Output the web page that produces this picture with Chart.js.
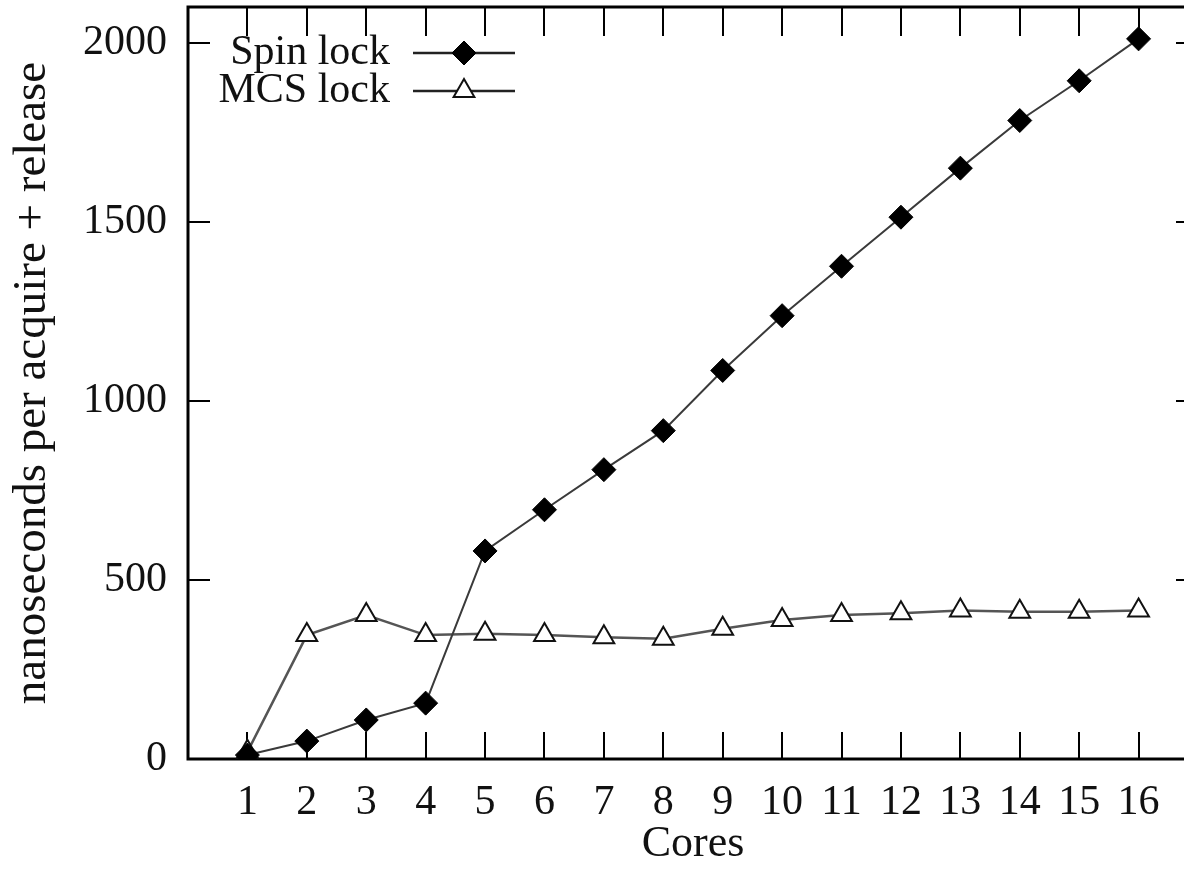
<!DOCTYPE html>
<html>
<head>
<meta charset="utf-8">
<title>Spin lock vs MCS lock</title>
<script src="https://cdn.jsdelivr.net/npm/chart.js@4.4.0/dist/chart.umd.min.js"></script>
<style>
    html, body { margin: 0; padding: 0; background: #fff; overflow: hidden; }
    #wrap { width: 1210px; height: 872px; }
</style>
</head>
<body>
<div id="wrap"><canvas id="lockChart" width="1210" height="872"></canvas></div>
<script>
const cores = [1, 2, 3, 4, 5, 6, 7, 8, 9, 10, 11, 12, 13, 14, 15, 16];
const spinLock = [11, 50, 109, 156, 581, 696, 808, 917, 1085, 1238, 1376, 1513, 1650, 1783, 1894, 2011];
const mcsLock = [20, 346, 402, 346, 350, 346, 340, 336, 364, 388, 402, 407, 415, 411, 411, 415];
const yTicks = [0, 500, 1000, 1500, 2000];
const xRange = [0, 17];
const yRange = [0, 2100];
const seriesNames = ['Spin lock', 'MCS lock'];

const serif = '"Liberation Serif", "Times New Roman", serif';

document.addEventListener('DOMContentLoaded', () => {
    // gnuplot style frame with inward ticks on all four sides
    const frameTicks = {
        id: 'frameTicks',
        beforeDatasetsDraw(chart) {
            const ctx = chart.ctx;
            const { left, right, top, bottom } = chart.chartArea;
            const xs = chart.scales.x;
            const ys = chart.scales.y;
            ctx.save();
            ctx.strokeStyle = '#000';
            ctx.lineWidth = 2;
            ctx.beginPath();
            xs.ticks.forEach(t => {
                const px = Math.round(xs.getPixelForValue(t.value));
                ctx.moveTo(px, bottom);
                ctx.lineTo(px, bottom - 27);
                ctx.moveTo(px, top);
                ctx.lineTo(px, top + 29);
            });
            ys.ticks.forEach(t => {
                const py = Math.round(ys.getPixelForValue(t.value));
                ctx.moveTo(left, py);
                ctx.lineTo(left + 22, py);
                ctx.moveTo(right, py);
                ctx.lineTo(right - 22, py);
            });
            ctx.stroke();
            ctx.lineWidth = 3;
            ctx.strokeRect(left, top, right - left, bottom - top);
            ctx.restore();
        }
    };

    // key in the top left corner: label, then sample line with marker
    const keyBox = {
        id: 'keyBox',
        afterDraw(chart) {
            const ctx = chart.ctx;
            const { left, top } = chart.chartArea;
            chart.data.datasets.forEach((ds, i) => {
                const y = top + 46 + i * 38;
                ctx.save();
                ctx.font = '42px ' + serif;
                ctx.fillStyle = '#111';
                ctx.textAlign = 'right';
                ctx.textBaseline = 'middle';
                ctx.fillText(ds.label, left + 202, y);

                ctx.strokeStyle = '#222';
                ctx.lineWidth = 2.5;
                ctx.beginPath();
                ctx.moveTo(left + 225, y);
                ctx.lineTo(left + 327, y);
                ctx.stroke();

                ctx.fillStyle = ds.pointBackgroundColor;
                ctx.strokeStyle = ds.pointBorderColor;
                ctx.lineWidth = ds.pointBorderWidth;
                Chart.helpers.drawPoint(ctx, {
                    pointStyle: ds.pointStyle,
                    radius: ds.pointRadius,
                    borderWidth: ds.pointBorderWidth,
                    rotation: 0
                }, left + 276, y);
                ctx.restore();
            });
        }
    };

    const ctx = document.getElementById('lockChart').getContext('2d');
    new Chart(ctx, {
        type: 'line',
        data: {
            datasets: [
                {
                    label: seriesNames[0],
                    data: cores.map((c, i) => ({ x: c, y: spinLock[i] })),
                    borderColor: '#3a3a3a',
                    borderWidth: 2,
                    pointStyle: 'rectRot',
                    pointRadius: 12,
                    pointBackgroundColor: '#000',
                    pointBorderColor: '#000',
                    pointBorderWidth: 1,
                    tension: 0
                },
                {
                    label: seriesNames[1],
                    data: cores.map((c, i) => ({ x: c, y: mcsLock[i] })),
                    borderColor: '#555',
                    borderWidth: 2.5,
                    pointStyle: 'triangle',
                    pointRadius: 12,
                    pointBackgroundColor: '#fff',
                    pointBorderColor: '#111',
                    pointBorderWidth: 2,
                    tension: 0
                }
            ]
        },
        options: {
            responsive: false,
            animation: false,
            events: [],
            layout: { autoPadding: false, padding: { left: 0, right: 12, top: 7, bottom: 0 } },
            plugins: {
                legend: { display: false },
                tooltip: { enabled: false }
            },
            scales: {
                x: {
                    type: 'linear',
                    min: xRange[0],
                    max: xRange[1],
                    grid: { display: false, drawTicks: false },
                    border: { display: false },
                    afterBuildTicks: (axis) => {
                        axis.ticks = cores.map(v => ({ value: v }));
                    },
                    afterFit: (axis) => {
                        axis.height = 113;
                        axis.paddingLeft = 0;
                        axis.paddingRight = 0;
                    },
                    ticks: {
                        padding: 23,
                        color: '#111',
                        maxRotation: 0,
                        autoSkip: false,
                        callback: (v) => String(v),
                        font: { family: serif, size: 42, lineHeight: 1 }
                    },
                    title: {
                        display: true,
                        text: 'Cores',
                        color: '#111',
                        padding: { top: 0, bottom: 6 },
                        font: { family: serif, size: 44, lineHeight: 1 }
                    }
                },
                y: {
                    min: yRange[0],
                    max: yRange[1],
                    grid: { display: false, drawTicks: false },
                    border: { display: false },
                    afterBuildTicks: (axis) => {
                        axis.ticks = yTicks.map(v => ({ value: v }));
                    },
                    afterFit: (axis) => {
                        axis.width = 188;
                        axis.paddingTop = 0;
                        axis.paddingBottom = 0;
                    },
                    ticks: {
                        padding: 21,
                        color: '#111',
                        callback: (v) => String(v),
                        font: { family: serif, size: 42, lineHeight: 1 }
                    },
                    title: {
                        display: true,
                        text: 'nanoseconds per acquire + release',
                        color: '#111',
                        padding: { top: 9, bottom: 0 },
                        font: { family: serif, size: 47, lineHeight: 1 }
                    }
                }
            }
        },
        plugins: [frameTicks, keyBox]
    });
});
</script>
</body>
</html>
